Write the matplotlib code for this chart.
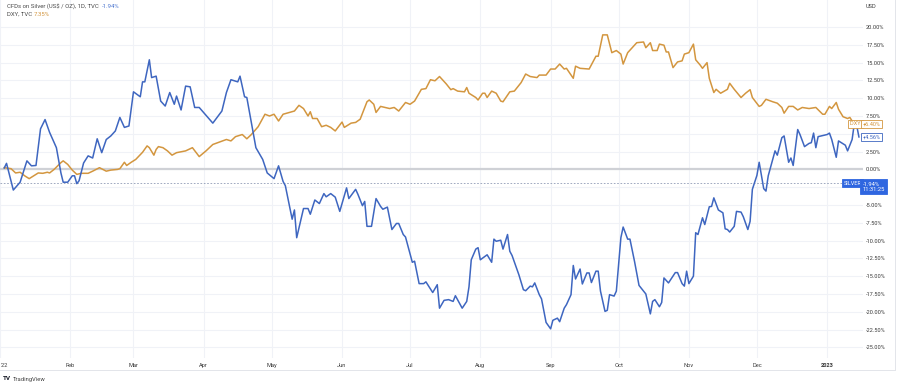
import pandas as pd
import numpy as np
import matplotlib
matplotlib.use("Agg")
import matplotlib.pyplot as plt
from matplotlib.lines import Line2D


# DONNÉES (jours depuis le 01/01/2022, variation en %)

start = pd.Timestamp("2022-01-01")

silver_day = [2, 3, 6, 9, 12, 14, 16, 18, 20, 22,
              25, 27, 28, 30, 32, 33, 34, 35, 37, 39,
              41, 43, 45, 47, 49, 51, 53, 55, 57, 59,
              62, 63, 64, 66, 67, 69, 71, 73, 75, 77,
              78, 80, 82, 84, 86, 88, 91, 94, 98, 100,
              102, 105, 106, 108, 109, 111, 113, 116, 118, 121,
              123, 125, 126, 128, 129, 130, 131, 134, 136, 137,
              139, 141, 143, 144, 146, 148, 150, 153, 154, 157,
              158, 160, 161, 162, 164, 166, 168, 169, 171, 173,
              175, 176, 178, 179, 182, 183, 185, 187, 188, 191,
              193, 194, 196, 198, 200, 201, 203, 204, 206, 207,
              208, 210, 211, 212, 215, 217, 218, 219, 221, 222,
              224, 225, 226, 229, 231, 232, 234, 235, 236, 238,
              239, 241, 243, 244, 246, 247, 249, 250, 252, 253,
              254, 256, 257, 259, 260, 261, 263, 264, 265, 267,
              268, 269, 271, 272, 274, 275, 277, 278, 280, 282,
              285, 287, 288, 289, 291, 292, 293, 295, 298, 299,
              301, 302, 303, 304, 306, 307, 308, 310, 311, 313,
              314, 315, 317, 319, 320, 321, 322, 324, 325, 327,
              328, 330, 331, 332, 334, 335, 337, 338, 339, 342,
              343, 345, 346, 348, 349, 350, 352, 353, 355, 357,
              358, 359, 360, 361, 365, 366, 367, 369, 370, 373,
              374, 376, 377, 378, 379]

silver_pct = [0.2, 0.85, -2.9, -1.8, 1.2, 0.5, 0.55, 5.7, 7.0, 5.2,
              3.05, -0.5, -1.8, -1.8, -0.9, -0.9, -2.0, -1.6, 0.9, 1.9,
              1.6, 4.3, 2.35, 4.2, 4.7, 5.4, 7.3, 5.9, 6.1, 10.9,
              10.2, 12.3, 12.3, 15.4, 12.9, 13.1, 9.6, 8.9, 10.8, 9.15,
              10.3, 8.35, 11.7, 11.6, 8.7, 8.7, 7.6, 6.5, 8.2, 10.8,
              12.6, 12.3, 13.1, 10.2, 10.1, 6.6, 3.05, 1.4, -0.5, -1.3,
              0.5, -1.7, -2.3, -5.4, -7.0, -5.7, -9.6, -5.5, -5.5, -6.3,
              -4.3, -4.8, -3.4, -3.85, -3.4, -3.9, -5.9, -2.6, -4.1, -2.8,
              -3.5, -5.1, -4.5, -8.0, -8.0, -4.1, -5.2, -5.6, -5.3, -8.45,
              -7.6, -7.6, -9.15, -9.5, -13.05, -12.9, -16.05, -16.05, -15.8, -17.3,
              -16.2, -19.5, -18.4, -18.3, -18.55, -17.75, -18.9, -19.5, -18.55, -16.5,
              -12.7, -11.2, -11.0, -12.7, -12.0, -13.05, -9.8, -10.1, -9.95, -11.2,
              -9.15, -11.5, -12.1, -14.8, -16.9, -17.05, -16.4, -16.5, -15.95, -17.6,
              -18.2, -21.5, -22.4, -21.2, -20.9, -21.4, -19.5, -19.0, -17.6, -13.5,
              -15.4, -14.0, -16.1, -14.55, -14.55, -15.9, -14.3, -14.3, -17.1, -19.95,
              -19.8, -17.6, -17.8, -17.1, -9.6, -8.1, -9.8, -9.8, -12.9, -16.3,
              -17.5, -20.3, -18.55, -18.3, -19.3, -18.7, -15.25, -15.95, -14.5, -14.5,
              -16.05, -16.4, -14.3, -16.05, -15.0, -8.9, -9.15, -6.8, -7.75, -5.25,
              -5.2, -4.0, -5.7, -6.1, -8.35, -8.45, -8.8, -8.0, -5.9, -6.0,
              -6.65, -8.45, -7.3, -2.8, -0.85, 1.0, -2.7, -3.05, -0.9, 2.6,
              2.0, 4.45, 4.7, 1.0, 1.6, 0.55, 5.6, 4.9, 3.2, 3.65,
              3.75, 5.1, 3.05, 4.6, 4.9, 5.1, 4.2, 1.7, 4.0, 3.4,
              2.6, 4.2, 6.5, 6.2, 4.56]

dxy_day = [2, 5, 7, 9, 11, 13, 15, 17, 19, 21,
           22, 24, 27, 28, 30, 32, 34, 36, 39, 41,
           44, 47, 49, 52, 53, 55, 56, 58, 60, 63,
           65, 66, 68, 69, 70, 72, 74, 76, 78, 82,
           85, 88, 91, 94, 97, 100, 102, 104, 107, 109,
           111, 114, 117, 119, 121, 123, 125, 130, 132, 134,
           136, 137, 138, 140, 142, 144, 146, 148, 151, 152,
           155, 157, 159, 162, 163, 165, 166, 168, 170, 172,
           174, 176, 179, 181, 183, 186, 188, 190, 192, 194,
           197, 199, 200, 202, 205, 206, 207, 210, 211, 213,
           214, 215, 217, 219, 221, 222, 225, 227, 230, 232,
           234, 237, 238, 241, 243, 245, 247, 249, 250, 253,
           254, 256, 260, 263, 264, 266, 268, 270, 272, 274,
           275, 277, 279, 281, 284, 285, 287, 288, 290, 291,
           293, 294, 295, 297, 299, 301, 302, 304, 306, 307,
           309, 310, 312, 313, 315, 316, 318, 321, 322, 324,
           327, 329, 331, 332, 335, 336, 338, 341, 343, 345,
           346, 348, 350, 352, 354, 357, 360, 363, 364, 366,
           367, 369, 370, 372, 374, 375, 376, 377]

dxy_pct = [0.24, 0.1, -0.5, -0.4, -0.9, -1.3, -0.9, -0.5, -0.55, -0.4,
           -0.5, 0.0, 0.95, 1.2, 0.7, -0.1, -0.7, -0.55, -0.55, -0.25,
           0.24, -0.25, -0.1, 0.0, 0.1, 1.0, 0.55, 1.0, 1.4, 2.4,
           3.3, 3.05, 2.0, 2.8, 3.2, 3.05, 2.6, 2.0, 2.35, 2.6,
           3.05, 1.8, 2.6, 3.5, 3.85, 4.2, 4.0, 4.6, 4.9, 4.3,
           4.9, 6.0, 7.75, 7.5, 7.75, 6.8, 7.75, 8.2, 9.0, 8.55,
           7.5, 8.1, 7.15, 7.15, 6.0, 6.2, 5.9, 5.4, 6.65, 5.9,
           6.5, 6.6, 7.05, 9.5, 9.75, 9.15, 8.0, 8.85, 8.7, 8.55,
           8.7, 8.2, 9.4, 9.15, 9.6, 11.25, 11.35, 12.6, 12.45, 13.05,
           12.0, 11.2, 11.35, 11.0, 10.9, 11.5, 10.7, 10.1, 9.75, 10.7,
           10.7, 10.1, 11.0, 10.7, 9.6, 9.5, 10.9, 11.0, 12.2, 13.4,
           13.05, 12.9, 13.25, 13.25, 14.1, 14.1, 14.8, 14.1, 14.2, 12.8,
           14.5, 14.2, 14.1, 15.9, 15.9, 18.9, 18.9, 16.4, 16.7, 16.2,
           14.8, 16.4, 17.1, 17.8, 17.9, 17.1, 17.8, 16.7, 16.7, 17.6,
           17.45, 16.5, 16.5, 14.3, 15.1, 15.25, 16.2, 16.4, 17.6, 15.4,
           14.65, 14.2, 15.0, 12.8, 10.8, 11.25, 10.7, 11.25, 12.1, 11.25,
           10.1, 10.7, 11.2, 10.1, 8.85, 9.0, 9.85, 9.5, 9.3, 8.7,
           7.9, 8.85, 8.85, 8.35, 8.7, 8.55, 8.7, 7.75, 7.75, 8.85,
           8.55, 9.4, 8.45, 7.4, 7.15, 7.3, 6.8, 6.4]

month_ticks = ["2022-01-03", "2022-02-01", "2022-03-01", "2022-04-01", "2022-05-01",
               "2022-06-01", "2022-07-01", "2022-08-01", "2022-09-01", "2022-10-01",
               "2022-11-01", "2022-12-01", "2023-01-01"]
month_labels = ["'22", "Feb", "Mar", "Apr", "May", "Jun", "Jul", "Aug",
                "Sep", "Oct", "Nov", "Dec", "2023"]
month_grid = ["2022-01-01"] + month_ticks[1:]

y_ticks = np.arange(-25, 20.01, 2.5)
y_hidden = [5.0, -2.5]   # cachés sous les étiquettes de prix

silver_last = -1.94
silver_cmp = 4.56
dxy_cmp = 6.40


# COULEURS

BLEU = "#3e66c0"
ORANGE = "#d3963f"
BLEU_TAG = "#2f66e0"
GRILLE = "#f0f2f7"
TEXTE = "#3a3a3a"

plt.rcParams["font.family"] = ["Roboto", "DejaVu Sans"]


# GRAPHIQUE

fig = plt.figure(figsize=(9, 3.89), dpi=100)
ax = fig.add_axes([0, 1 - 358 / 389, 863 / 900, 358 / 389])

x_silver = start + pd.to_timedelta(silver_day, unit="D")
x_dxy = start + pd.to_timedelta(dxy_day, unit="D")

for d in month_grid:
    ax.axvline(pd.Timestamp(d), color=GRILLE, linewidth=0.8, zorder=0)
for v in y_ticks:
    ax.axhline(v, color=GRILLE, linewidth=0.8, zorder=0)

ax.axhline(0, color="#cfd1d6", linewidth=1.6, zorder=1)
ax.axhline(silver_last, color="#8f9bb5", linewidth=0.6, linestyle=(0, (2, 2)), zorder=1)

ax.plot(x_dxy, dxy_pct, color=ORANGE, linewidth=1.1, zorder=3)
ax.plot(x_silver, silver_pct, color=BLEU, linewidth=1.1, zorder=3)

ax.set_xlim(start + pd.Timedelta(hours=3), start + pd.Timedelta(days=380.8))
ax.set_ylim(-26.5, 23.8)

for s in ax.spines.values():
    s.set_visible(False)

ax.yaxis.tick_right()
ax.set_yticks(y_ticks)
ax.set_yticklabels(["" if v in y_hidden else f"{v:.2f}%" for v in y_ticks])
ax.tick_params(axis="y", length=0, pad=2.2, labelsize=4.1, labelcolor=TEXTE)
for lab in ax.get_yticklabels():
    lab.set_horizontalalignment("left")

ax.set_xticks([pd.Timestamp(d) for d in month_ticks])
ax.set_xticklabels(month_labels)
ax.tick_params(axis="x", length=0, pad=3.5, labelsize=4.1, labelcolor=TEXTE)
ax.get_xticklabels()[-1].set_fontweight("bold")

# étiquettes à droite
tr = ax.get_yaxis_transform()
bord = 861.7 / 863

ax.text(bord, dxy_cmp, "DXY ", transform=tr, ha="right", va="center", fontsize=4.0,
        color=ORANGE, clip_on=False, zorder=6,
        bbox=dict(boxstyle="square,pad=0.25", fc="white", ec=ORANGE, lw=0.6))
ax.text(bord + 0.001, dxy_cmp, "+6.40%", transform=tr, ha="left", va="center", fontsize=4.0,
        color=ORANGE, clip_on=False, zorder=6,
        bbox=dict(boxstyle="square,pad=0.25", fc="white", ec=ORANGE, lw=0.6))
ax.text(bord + 0.001, silver_cmp, "+4.56%", transform=tr, ha="left", va="center", fontsize=4.0,
        color=BLEU, clip_on=False, zorder=6,
        bbox=dict(boxstyle="square,pad=0.25", fc="white", ec=BLEU, lw=0.6))
ax.text(bord, silver_last, "SILVER", transform=tr, ha="right", va="center", fontsize=4.0,
        color="white", clip_on=False, zorder=6,
        bbox=dict(boxstyle="square,pad=0.3", fc=BLEU_TAG, ec=BLEU_TAG, lw=0.6))
ax.text(bord + 0.001, silver_last - 0.5, "-1.94%\n11:31:25", transform=tr, ha="left",
        va="center", fontsize=4.2, color="white", clip_on=False, zorder=6, linespacing=1.1,
        bbox=dict(boxstyle="square,pad=0.4", fc=BLEU_TAG, ec=BLEU_TAG, lw=0.6))

# en-tête
fig.text(866 / 900, 1 - 7 / 389, "USD", fontsize=4.1, color=TEXTE, va="center")
fig.text(7 / 900, 1 - 6 / 389, "CFDs on Silver (US$ / OZ), 1D, TVC", fontsize=4.3,
         color="#4a4a4a", va="center")
fig.text(102 / 900, 1 - 6 / 389, "-1.94%", fontsize=4.3, color="#4f78d0", va="center")
fig.text(7 / 900, 1 - 14.5 / 389, "DXY, TVC", fontsize=4.3, color="#4a4a4a", va="center")
fig.text(34 / 900, 1 - 14.5 / 389, "7.35%", fontsize=4.3, color=ORANGE, va="center")

# cadre et logo
fig.add_artist(Line2D([0, 895 / 900], [1 - 370 / 389] * 2, color="#e3e5ea", lw=0.7))
fig.add_artist(Line2D([895 / 900] * 2, [1 - 370 / 389, 1], color="#e3e5ea", lw=0.7))
fig.text(3 / 900, 1 - 379 / 389, "TV", fontsize=4.6, fontweight="bold", color="#131722", va="center")
fig.text(13 / 900, 1 - 379 / 389, "TradingView", fontsize=4.2, color="#444444", va="center")

plt.savefig("out.png", dpi=100)
